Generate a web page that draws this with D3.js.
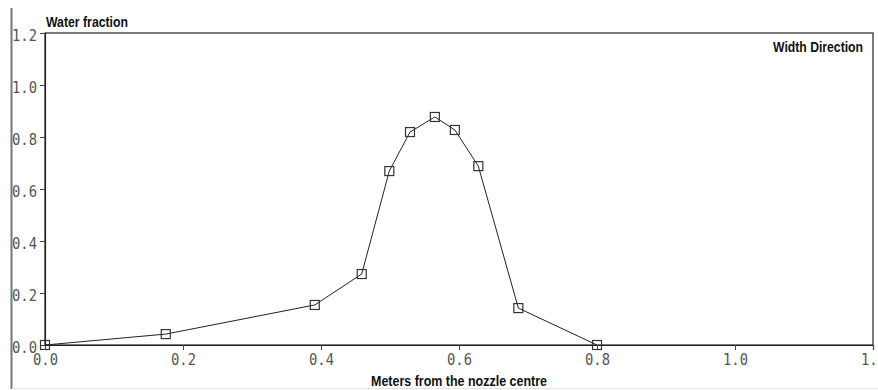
<!DOCTYPE html>
<html><head><meta charset="utf-8">
<script src="https://cdn.jsdelivr.net/npm/d3@7"></script>
<style>body{margin:0;background:#fff}svg{display:block}</style>
</head><body>
<script>
const xValues = [0.0, 0.175, 0.391, 0.459, 0.499, 0.529, 0.565, 0.594, 0.628, 0.686, 0.80];
const waterFraction = [0.0, 0.042, 0.154, 0.273, 0.669, 0.819, 0.877, 0.827, 0.688, 0.142, 0.0];
const xTicks = [0.0, 0.2, 0.4, 0.6, 0.8, 1.0, 1.2];
const yTicks = [0.0, 0.2, 0.4, 0.6, 0.8, 1.0, 1.2];
const yLabel = "Water fraction";
const xLabel = "Meters from the nozzle centre";
const seriesName = "Width Direction";

const W = 878, H = 390;
const m = {left: 45, top: 33, right: 5, bottom: 45};
const svg = d3.select("body").append("svg").attr("width", W).attr("height", H);

const x = d3.scaleLinear().domain([0, 1.2]).range([m.left, W - m.right]);
const y = d3.scaleLinear().domain([0, 1.2]).range([H - m.bottom, m.top]);

// outer spine and bottom faint line
svg.append("line").attr("x1", 11.5).attr("x2", 11.5).attr("y1", 8).attr("y2", 389)
  .attr("stroke", "#777").attr("stroke-width", 2);
svg.append("line").attr("x1", 12).attr("x2", W).attr("y1", 388.5).attr("y2", 388.5)
  .attr("stroke", "#e6e6e6").attr("stroke-width", 1);

// frame
svg.append("rect").attr("x", x(0)).attr("y", y(1.2))
  .attr("width", x(1.2) - x(0)).attr("height", y(0) - y(1.2))
  .attr("fill", "none").attr("stroke", "#222").attr("stroke-width", 1.2);

const tickFont = "'DejaVu Sans Mono', monospace";
const gx = svg.append("g").attr("transform", `translate(0,${y(0)})`)
  .call(d3.axisBottom(x).tickValues(xTicks).tickFormat(d3.format(".1f")).tickSize(5).tickPadding(2));
const gy = svg.append("g").attr("transform", `translate(${x(0)},0)`)
  .call(d3.axisLeft(y).tickValues(yTicks).tickFormat(d3.format(".1f")).tickSize(5).tickPadding(3));
[gx, gy].forEach(g => {
  g.select(".domain").attr("stroke", "#222").attr("stroke-width", 1.2);
  g.selectAll(".tick line").attr("stroke", "#444");
  g.selectAll(".tick text").attr("fill", "#555").style("font-family", tickFont).style("font-size", "16px")
    .attr("textLength", 25).attr("lengthAdjust", "spacingAndGlyphs");
});
gx.selectAll(".tick text").attr("y", 20).attr("dy", 0);
gy.selectAll(".tick text").attr("dy", "7px");

// line
const line = d3.line().x((d, i) => x(xValues[i])).y(d => y(d));
svg.append("path").datum(waterFraction).attr("d", line)
  .attr("fill", "none").attr("stroke", "#222").attr("stroke-width", 1);

// markers
const s = 9;
svg.append("g").selectAll("rect").data(waterFraction).join("rect")
  .attr("x", (d, i) => x(xValues[i]) - s / 2).attr("y", d => y(d) - s / 2)
  .attr("width", s).attr("height", s)
  .attr("fill", "none").attr("stroke", "#333").attr("stroke-width", 1.2);

const labFont = "'Liberation Sans', Arial, sans-serif";
function label(tx, ty, anchor, size, len, str) {
  svg.append("text").attr("x", tx).attr("y", ty).attr("text-anchor", anchor).text(str)
    .attr("textLength", len).attr("lengthAdjust", "spacingAndGlyphs")
    .style("font-family", labFont).style("font-weight", "bold").style("font-size", size + "px").attr("fill", "#111");
}
label(46, 27, "start", 14, 82, yLabel);
label(863, 52, "end", 14, 90, seriesName);
label(459, 386, "middle", 15, 176, xLabel);
</script>
</body></html>
